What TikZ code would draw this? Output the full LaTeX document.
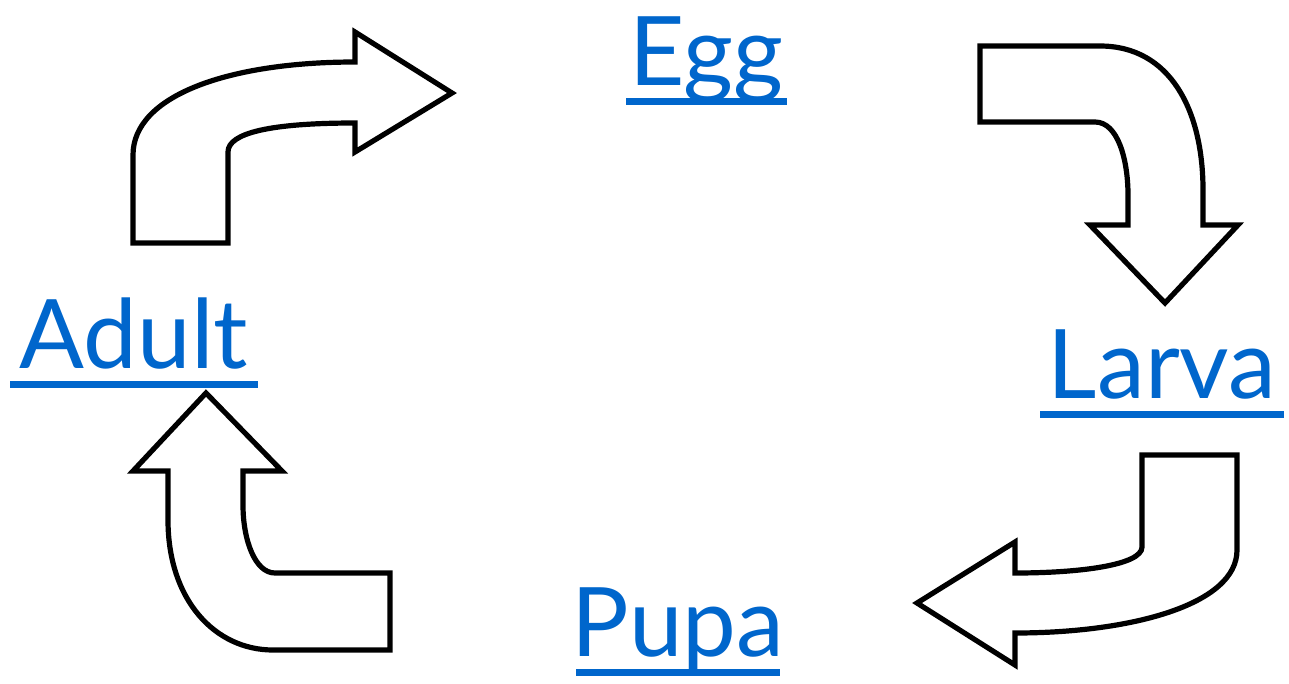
\documentclass[tikz,border=0pt]{standalone}
\usepackage{fontspec}
\setmainfont{Lato}
\definecolor{lblue}{HTML}{0066CC}
\newcommand\ulword[2]{\setbox0=\hbox{#2}\dp0=0pt\dimen0=#1pt\vtop{\hbox to\dimen0{\hss\box0\hss}\kern12.5pt\hrule height 7pt}}
\begin{document}
\begin{tikzpicture}[x=1pt,y=-1pt,
  stage/.style={anchor=base,inner sep=0pt,text=lblue,font=\fontsize{96}{96}\selectfont},
  blockarrow/.style={draw=black,fill=white,line width=5.2pt,line join=miter}]
\useasboundingbox[fill=white] (0,0) rectangle (1289,683);
% stages
\node[stage] (egg)   at (706,85)  {\ulword{161}{Egg}};
\node[stage] (larva) at (1162,398) {\ulword{244}{Larva}};
\node[stage] (pupa)  at (678,656) {\ulword{204}{Pupa}};
\node[stage] (adult) at (134,368) {\ulword{248}{Adult}};
% Adult -> Egg
\draw[blockarrow] (133,243) -- (133,155) .. controls (133,95) and (230,62) .. (355,62)
  -- (355,32) -- (452,93) -- (355,152) -- (355,123)
  .. controls (270,123) and (228,133) .. (228,152) -- (228,243) -- cycle;
% Egg -> Larva
\draw[blockarrow] (980,46) -- (1100,46) .. controls (1170,46) and (1203,110) .. (1203,190)
  -- (1203,225) -- (1238,225) -- (1165,303) -- (1090,225) -- (1128,225) -- (1128,195)
  .. controls (1128,160) and (1118,122) .. (1095,122) -- (980,122) -- cycle;
% Larva -> Pupa
\draw[blockarrow] (1142,455) -- (1237,455) -- (1237,550)
  .. controls (1237,605) and (1130,633) .. (1015,633) -- (1015,665) -- (917,603)
  -- (1015,542) -- (1015,573) .. controls (1080,573) and (1142,565) .. (1142,547) -- cycle;
% Pupa -> Adult
\draw[blockarrow] (390,650) -- (273,650) .. controls (215,650) and (168,600) .. (168,520)
  -- (168,471) -- (133,471) -- (206,393) -- (282,471) -- (243,471) -- (243,505)
  .. controls (243,540) and (255,573) .. (275,573) -- (390,573) -- cycle;
\end{tikzpicture}
\end{document}
